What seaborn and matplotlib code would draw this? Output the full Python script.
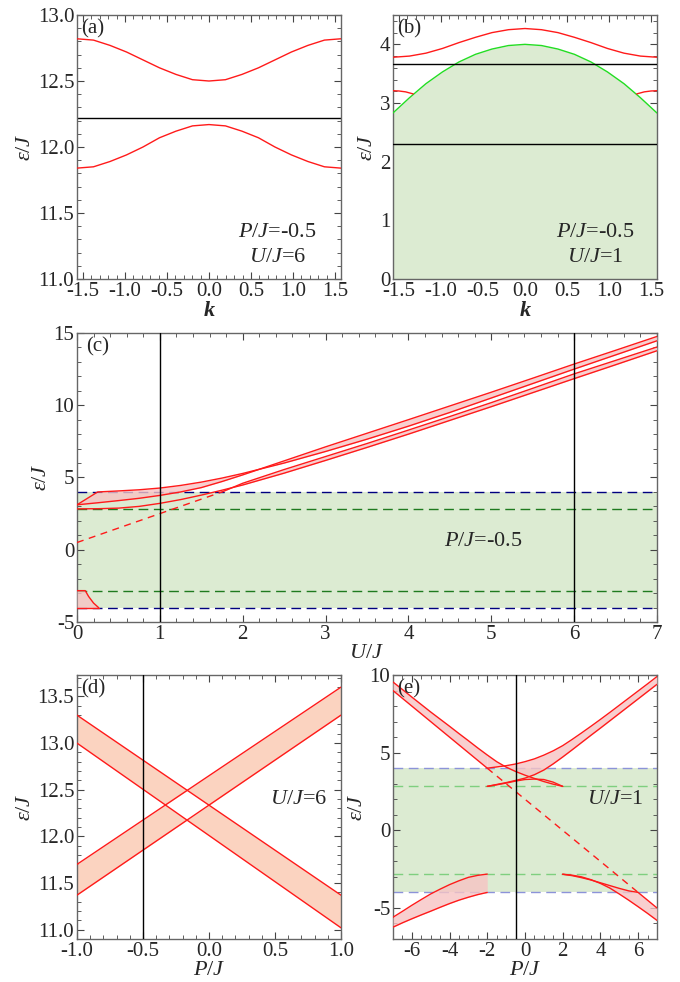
import numpy as np
import matplotlib
matplotlib.use("Agg")
import matplotlib.pyplot as plt
import seaborn as sns
from matplotlib.ticker import MultipleLocator, FormatStrFormatter

# ---------------- data ----------------
# (a)  U/J=6, P/J=-0.5 : bands vs k
k = [-1.5708, -1.3744, -1.1781, -0.9817, -0.7854, -0.5890, -0.3927, -0.1963, 0.0,
     0.1963, 0.3927, 0.5890, 0.7854, 0.9817, 1.1781, 1.3744, 1.5708]
a_upper = [12.82, 12.81, 12.77, 12.72, 12.66, 12.60, 12.55, 12.51, 12.50,
           12.51, 12.55, 12.60, 12.66, 12.72, 12.77, 12.81, 12.82]
a_lower = [11.84, 11.85, 11.89, 11.94, 12.00, 12.07, 12.12, 12.16, 12.17,
           12.16, 12.12, 12.07, 12.00, 11.94, 11.89, 11.85, 11.84]
a_hline = 12.22

# (b)  U/J=1, P/J=-0.5
b_upper = [3.78, 3.80, 3.85, 3.93, 4.03, 4.12, 4.20, 4.25, 4.27,
           4.25, 4.20, 4.12, 4.03, 3.93, 3.85, 3.80, 3.78]
b_edge = [2.83, 3.09, 3.33, 3.53, 3.70, 3.83, 3.92, 3.98, 4.00,
          3.98, 3.92, 3.83, 3.70, 3.53, 3.33, 3.09, 2.83]
b_low_k_left = [-1.5708, -1.50, -1.42, -1.33]
b_low_k_right = [1.33, 1.42, 1.50, 1.5708]
b_low_left = [3.21, 3.205, 3.19, 3.155]
b_low_right = [3.155, 3.19, 3.205, 3.21]
b_hlines = [3.66, 2.30]

# (c)  P/J=-0.5 : band edges vs U
U = [0, 0.25, 0.5, 0.75, 1, 1.25, 1.5, 1.75, 2, 2.5, 3, 3.5, 4, 4.5, 5, 5.5, 6, 6.5, 7]
c_A0 = [3.11, 4.00, 4.07, 4.15, 4.27, 4.45, 4.68, 4.96, 5.28, 6.00, 6.80, 7.65,
        8.55, 9.50, 10.50, 11.50, 12.50, 13.48, 14.46]
c_Api = [3.11, 3.25, 3.40, 3.56, 3.76, 4.00, 4.30, 4.72, 5.18, 6.15, 7.12, 8.06,
         9.00, 9.95, 10.90, 11.87, 12.85, 13.80, 14.76]
c_Bpi = [2.83, 2.84, 2.88, 3.00, 3.21, 3.47, 3.78, 4.12, 4.48, 5.30, 6.18, 7.08,
         8.00, 8.95, 9.90, 10.87, 11.84, 12.80, 13.77]
c_B0 = [np.nan] * 7 + [4.00, 4.60, 5.55, 6.45, 7.35, 8.28, 9.22, 10.18, 11.17,
                       12.17, 13.10, 14.03]
c_dash_U = [0, 1.75]
c_dash_E = [0.5, 4.0]
c_low_U = [0, 0.10, 0.14, 0.20, 0.26]
c_low_top = [-2.83, -2.83, -3.23, -3.69, -4.0]
c_low_bot = [-4.0, -4.0, -4.0, -4.0, -4.0]
c_vlines = [1, 6]

# (d)  U/J=6 : straight band edges vs P
d_P = [-1, 1]
d_dec_top = [13.30, 11.37]
d_dec_bot = [13.00, 11.02]
d_inc_top = [11.70, 13.60]
d_inc_bot = [11.37, 13.30]

# (e)  U/J=1 : band edges vs P
n = np.nan
P = [-7, -6.5, -6, -5.5, -5, -4.5, -4, -3.5, -3, -2.5, -2, -1.5, -1, -0.5, 0,
     0.5, 1, 1.5, 2, 2.5, 3, 3.5, 4, 4.5, 5, 5.5, 6, 6.5, 7]
e_L1 = [9.55, 9.07, 8.58, 8.10, 7.62, 7.16, 6.70, 6.23, 5.77, 5.30, 4.85, 4.42, 4.07,
        3.79, 3.55, 3.34, 3.14, 2.97, 2.83] + [n] * 10
e_L2 = [9.0, 8.5, 8.0, 7.5, 7.0, 6.5, 6.0, 5.5, 5.0, 4.5, 4.0] + [n] * 18
e_L3 = [n] * 10 + [4.00, 4.08, 4.16, 4.27, 4.42, 4.60, 4.84, 5.12, 5.45, 5.85, 6.27,
                   6.70, 7.14, 7.59, 8.05, 8.51, 8.97, 9.43, 9.90]
e_L4 = [n] * 10 + [2.83, 2.95, 3.07, 3.21, 3.36, 3.58, 3.88, 4.28, 4.72, 5.18, 5.65,
                   6.12, 6.58, 7.05, 7.52, 7.99, 8.46, 8.93, 9.40]
e_arch = [n] * 10 + [2.83, 2.93, 3.04, 3.17, 3.27, 3.30, 3.27, 3.10, 2.83] + [n] * 10
e_LLtop = [-5.60, -5.22, -4.83, -4.46, -4.10, -3.79, -3.50, -3.25, -3.03, -2.90, -2.82] + [n] * 18
e_LLbot = [-6.24, -5.96, -5.70, -5.45, -5.21, -4.96, -4.72, -4.50, -4.31, -4.14, -4.00] + [n] * 18
e_R1 = [n] * 18 + [-2.83, -2.89, -3.00, -3.18, -3.42, -3.72, -4.10, -4.50, -4.92, -5.35, -5.80]
e_R2 = [n] * 18 + [-2.83, -2.92, -3.05, -3.20, -3.38, -3.56, -3.74, -3.90, -4.00, -4.50, -5.00]
e_dash_P = [-2, 6]
e_dash_E = [4.0, -4.0]
e_vline = -0.5

# ---------------- styling ----------------
sns.set_theme(style="ticks")
plt.rcParams["font.family"] = ["Liberation Serif", "DejaVu Serif"]
plt.rcParams["mathtext.fontset"] = "custom"
plt.rcParams["mathtext.rm"] = "Liberation Serif"
plt.rcParams["mathtext.it"] = "Liberation Serif:italic"
plt.rcParams["mathtext.bf"] = "Liberation Serif:bold:italic"
plt.rcParams["axes.unicode_minus"] = False

RED = "#ff1a1a"
PINK = "#f7c4c4"
SALMON = "#fbd3c0"
GFILL = "#dcebd2"
FS = 15


def curve(ax, x, y, color=RED, lw=1.0, ls="-", z=4):
    x = np.asarray(x, float)
    y = np.asarray(y, float)
    ok = ~np.isnan(y)
    sns.lineplot(x=x[ok], y=y[ok], ax=ax, color=color, linewidth=lw,
                 linestyle=ls, estimator=None, sort=False, zorder=z)


def style(ax, xmaj, xmin, ymaj, ymin, xfmt, yfmt):
    ax.xaxis.set_major_locator(MultipleLocator(xmaj))
    ax.xaxis.set_minor_locator(MultipleLocator(xmin))
    ax.yaxis.set_major_locator(MultipleLocator(ymaj))
    ax.yaxis.set_minor_locator(MultipleLocator(ymin))
    ax.xaxis.set_major_formatter(FormatStrFormatter(xfmt))
    ax.yaxis.set_major_formatter(FormatStrFormatter(yfmt))
    ax.tick_params(which="both", direction="in", top=True, right=True,
                   color="#444444", labelsize=FS, pad=2)
    ax.tick_params(which="major", length=5, width=0.8)
    ax.tick_params(which="minor", length=3, width=0.6)
    for s in ax.spines.values():
        s.set_color("#666666")
        s.set_linewidth(1.0)
    ax.set_ylabel(r"$\varepsilon/J$", fontsize=FS + 1, labelpad=2)


def label(ax, txt):
    ax.text(0.015, 0.985, txt, transform=ax.transAxes, ha="left", va="top",
            fontsize=FS, zorder=10)


fig = plt.figure(figsize=(6.8, 9.82), dpi=100)
ax_a = fig.add_axes([0.1132, 0.7159, 0.3882, 0.2688])
ax_b = fig.add_axes([0.5779, 0.7159, 0.3882, 0.2688])
ax_c = fig.add_axes([0.1132, 0.3666, 0.8529, 0.2943])
ax_d = fig.add_axes([0.1132, 0.0438, 0.3882, 0.2688])
ax_e = fig.add_axes([0.5779, 0.0438, 0.3882, 0.2688])

# (a)
curve(ax_a, k, a_upper)
curve(ax_a, k, a_lower)
ax_a.axhline(a_hline, color="black", lw=1.0)
ax_a.set_xlim(-1.5708, 1.5708)
ax_a.set_ylim(11.0, 13.0)
style(ax_a, 0.5, 0.1, 0.5, 0.1, "%.1f", "%.1f")
ax_a.set_xlabel("k", fontsize=FS + 1, fontstyle="italic", fontweight="bold", labelpad=0)
label(ax_a, "(a)")
ax_a.text(0.76, 0.175, r"$P/J$=-0.5", transform=ax_a.transAxes, ha="center", va="center", fontsize=FS + 1)
ax_a.text(0.76, 0.08, r"$U/J$=6", transform=ax_a.transAxes, ha="center", va="center", fontsize=FS + 1)

# (b)
ax_b.fill_between(k, 0, b_edge, color=GFILL, lw=0, zorder=1)
curve(ax_b, k, b_edge, color="#22dd22")
curve(ax_b, k, b_upper)
curve(ax_b, b_low_k_left, b_low_left)
curve(ax_b, b_low_k_right, b_low_right)
for h in b_hlines:
    ax_b.axhline(h, color="black", lw=1.0, zorder=5)
ax_b.set_xlim(-1.5708, 1.5708)
ax_b.set_ylim(0, 4.5)
style(ax_b, 0.5, 0.1, 1, 0.2, "%.1f", "%d")
ax_b.set_xlabel("k", fontsize=FS + 1, fontstyle="italic", fontweight="bold", labelpad=0)
label(ax_b, "(b)")
ax_b.text(0.765, 0.175, r"$P/J$=-0.5", transform=ax_b.transAxes, ha="center", va="center", fontsize=FS + 1)
ax_b.text(0.765, 0.08, r"$U/J$=1", transform=ax_b.transAxes, ha="center", va="center", fontsize=FS + 1)

# (c)
ax_c.axhspan(-4, 4, color=GFILL, lw=0, zorder=0)
for h in (4, -4):
    ax_c.axhline(h, color="#000080", lw=1.0, dashes=(7, 4), zorder=2)
for h in (2.83, -2.83):
    ax_c.axhline(h, color="#1f7a1f", lw=1.0, dashes=(7, 4), zorder=2)
ax_c.fill_between(U, c_A0, c_Api, color=PINK, alpha=0.8, lw=0, zorder=3)
ax_c.fill_between(U, c_B0, c_Bpi, color=PINK, alpha=0.8, lw=0, zorder=3)
ax_c.fill_between(c_low_U, c_low_bot, c_low_top, color=PINK, alpha=0.8, lw=0, zorder=3)
for yy in (c_A0, c_Api, c_Bpi, c_B0):
    curve(ax_c, U, yy)
curve(ax_c, c_low_U, c_low_top)
curve(ax_c, c_low_U, c_low_bot)
curve(ax_c, c_dash_U, c_dash_E, ls=(0, (5, 4)))
for v in c_vlines:
    ax_c.axvline(v, color="black", lw=1.0, zorder=5)
ax_c.set_xlim(0, 7)
ax_c.set_ylim(-5, 15)
style(ax_c, 1, 0.2, 5, 1, "%d", "%d")
ax_c.set_xlabel(r"$U/J$", fontsize=FS + 1, labelpad=0)
label(ax_c, "(c)")
ax_c.text(0.70, 0.28, r"$P/J$=-0.5", transform=ax_c.transAxes, ha="center", va="center", fontsize=FS + 1)

# (d)
pp = np.linspace(-1, 1, 401)
stack = np.sort(np.vstack([np.interp(pp, d_P, v) for v in
                           (d_dec_top, d_dec_bot, d_inc_top, d_inc_bot)]), axis=0)
ax_d.fill_between(pp, stack[0], stack[1], color=SALMON, lw=0, zorder=1)
ax_d.fill_between(pp, stack[2], stack[3], color=SALMON, lw=0, zorder=1)
for yy in (d_dec_top, d_dec_bot, d_inc_top, d_inc_bot):
    curve(ax_d, d_P, yy)
ax_d.axvline(-0.5, color="black", lw=1.0, zorder=5)
ax_d.set_xlim(-1, 1)
ax_d.set_ylim(10.9, 13.73)
style(ax_d, 0.5, 0.1, 0.5, 0.1, "%.1f", "%.1f")
ax_d.set_xlabel(r"$P/J$", fontsize=FS + 1, labelpad=0)
label(ax_d, "(d)")
ax_d.text(0.84, 0.53, r"$U/J$=6", transform=ax_d.transAxes, ha="center", va="center", fontsize=FS + 1)

# (e)
Pa = np.asarray(P, float)
L1, L2, L3, L4 = (np.asarray(v, float) for v in (e_L1, e_L2, e_L3, e_L4))
R1, R2 = np.asarray(e_R1, float), np.asarray(e_R2, float)
ax_e.axhspan(-4, 4, color=GFILL, lw=0, zorder=0)
for h in (4, -4):
    ax_e.axhline(h, color="#8c93d9", lw=1.0, dashes=(7, 4), zorder=2)
for h in (2.83, -2.83):
    ax_e.axhline(h, color="#7fcf7f", lw=1.0, dashes=(7, 4), zorder=2)
ax_e.fill_between(Pa, L1, L2, color=PINK, alpha=0.8, lw=0, zorder=3)
ax_e.fill_between(Pa, L3, np.fmax(L1, L4), color=PINK, alpha=0.8, lw=0, zorder=3)
ax_e.fill_between(Pa, e_LLtop, e_LLbot, color=PINK, alpha=0.8, lw=0, zorder=3)
ax_e.fill_between(Pa, R1, R2, color=PINK, alpha=0.8, lw=0, zorder=3)
for yy in (e_L1, e_L2, e_L3, e_L4, e_arch, e_LLtop, e_LLbot, e_R1, e_R2):
    curve(ax_e, P, yy)
curve(ax_e, e_dash_P, e_dash_E, ls=(0, (5, 4)))
ax_e.axvline(e_vline, color="black", lw=1.0, zorder=5)
ax_e.set_xlim(-7, 7)
ax_e.set_ylim(-7, 10)
style(ax_e, 2, 0.5, 5, 1, "%d", "%d")
ax_e.set_xlabel(r"$P/J$", fontsize=FS + 1, labelpad=0)
label(ax_e, "(e)")
ax_e.text(0.84, 0.53, r"$U/J$=1", transform=ax_e.transAxes, ha="center", va="center", fontsize=FS + 1)

fig.savefig("out.png", dpi=100)
